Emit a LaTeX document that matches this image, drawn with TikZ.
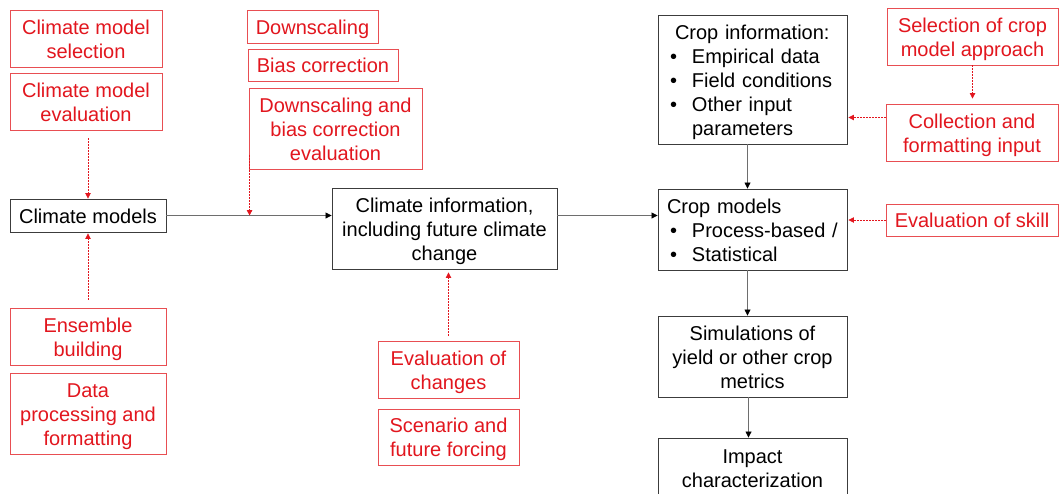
\documentclass[tikz,border=0pt]{standalone}
\usepackage{fontspec}
\setmainfont{Liberation Sans}
\usetikzlibrary{arrows.meta}

\definecolor{redtxt}{RGB}{226,22,30}
\definecolor{redline}{RGB}{232,78,82}
\definecolor{boxline}{RGB}{60,60,60}
\definecolor{flowline}{RGB}{110,110,110}

\tikzset{
  x=1pt, y=-1pt,
  base/.style={draw, inner sep=0pt, align=center, font=\fontsize{20}{24}\selectfont},
  blackbox/.style={base, draw=boxline, line width=0.9pt, text=black},
  redbox/.style={base, draw=redline, line width=0.9pt, text=redtxt},
  listbox/.style={blackbox, text width=181pt, align=left},
  flow/.style={draw=flowline, line width=0.8pt, -{Triangle[length=6pt,width=6pt,color=black]}},
  hint/.style={draw=redtxt, line width=0.8pt, dash pattern=on 1.5pt off 1.5pt,
               -{Triangle[length=5.5pt,width=5.5pt,color=redtxt]}}
}

% box from corner (x1,y1) to (x2,y2): \boxat{style}{name}{x1}{y1}{x2}{y2}{text}
% every line gets a 24pt line box (19.5pt above, 4.5pt below the baseline)
\newcommand\boxat[7]{%
  \node[#1, minimum width={(#5-#3)*1pt}, minimum height={(#6-#4)*1pt}]
    (#2) at ({(#3+#5)/2},{(#4+#6)/2})
    {\rule{0pt}{19.5pt}#7\rule[-4.5pt]{0pt}{4.5pt}};}
\newcommand\bul{\hspace*{8pt}\makebox[22pt][l]{\textbullet}}

\begin{document}
\begin{tikzpicture}
\useasboundingbox (0,0) rectangle (1059,493);
\clip (0,0) rectangle (1059,493);
\fill[white] (0,0) rectangle (1059,493);

% climate side
\boxat{redbox}{sel}{10}{10}{162}{67}{Climate model\\selection}
\boxat{redbox}{eval}{10}{73}{162}{130}{Climate model\\evaluation}
\boxat{redbox}{ds}{247}{10}{378}{43}{Downscaling}
\boxat{redbox}{bc}{248}{49}{398}{81}{Bias correction}
\boxat{redbox}{dbe}{249}{88}{422}{169}{Downscaling and\\bias correction\\evaluation}
\boxat{blackbox}{cm}{10}{199}{166}{232}{Climate models}
\boxat{redbox}{ens}{10}{308}{166}{365}{Ensemble\\building}
\boxat{redbox}{dp}{10}{373}{166}{454}{Data\\processing and\\formatting}
\boxat{blackbox}{ci}{332}{188}{557}{269}{Climate information,\\including future climate\\change}
\boxat{redbox}{evc}{378}{341}{519}{398}{Evaluation of\\changes}
\boxat{redbox}{scn}{378}{409}{519}{465}{Scenario and\\future forcing}

% crop side
\boxat{listbox}{crop}{658}{15}{847}{144}{%
  \hspace*{13pt}Crop information:\\
  \bul Empirical data\\
  \bul Field conditions\\
  \bul Other input\\
  \hspace*{30pt}parameters}
\boxat{listbox}{cmod}{658}{189}{847}{270}{%
  \hspace*{5pt}Crop models\\
  \bul Process-based /\\
  \bul Statistical}
\boxat{blackbox}{sim}{658}{316}{847}{397}{Simulations of\\yield or other crop\\metrics}
\boxat{blackbox}{imp}{658}{438}{847}{497}{Impact\\characterization}
\boxat{redbox}{scp}{887}{8}{1058}{65}{Selection of crop\\model approach}
\boxat{redbox}{cfi}{886}{104}{1058}{161}{Collection and\\formatting input}
\boxat{redbox}{esk}{886}{204}{1058}{236}{Evaluation of skill}

% main flow
\draw[flow] (cm.east) -- (cm.east -| ci.west);
\draw[flow] (cm.east -| ci.east) -- (cm.east -| cmod.west);
\draw[flow] ([xshift=-5pt]crop.south) -- ([xshift=-5pt]crop.south |- cmod.north);
\draw[flow] ([xshift=-5pt]cmod.south) -- ([xshift=-5pt]cmod.south |- sim.north);
\draw[flow] ([xshift=-4pt]sim.south) -- ([xshift=-4pt]sim.south |- imp.north);

% supporting steps
\draw[hint] ([yshift=-8pt]cm.north |- eval.south) -- (cm.north);
\draw[hint] ([yshift=8pt]cm.south |- ens.north) -- ([yshift=-1pt]cm.south);
\draw[hint] ([xshift=1pt,yshift=14pt]dbe.south west) -- ([xshift=1pt]dbe.south west |- cm.east);
\draw[hint] ([yshift=5pt]evc.north) -- ([yshift=-3pt]ci.south -| evc.north);
\draw[hint] (scp.south) -- ([yshift=5pt]cfi.north -| scp.south);
\draw[hint] ([yshift=15pt]cfi.west) -- ([xshift=1pt,yshift=15pt]cfi.west -| crop.east);
\draw[hint] (esk.west) -- ([xshift=1pt]esk.west -| cmod.east);
\end{tikzpicture}
\end{document}
